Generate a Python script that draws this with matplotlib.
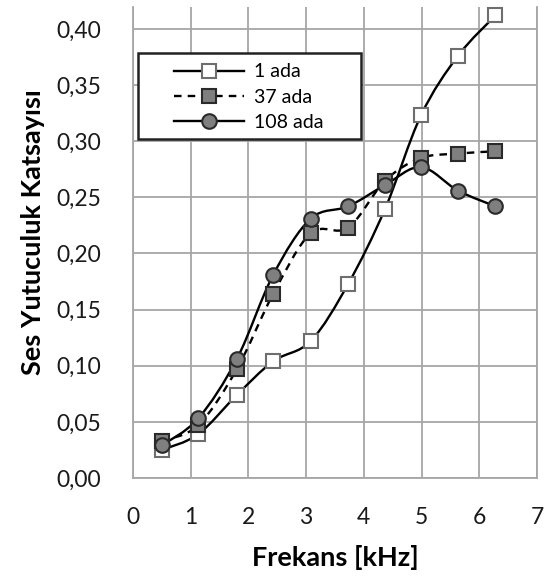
import matplotlib
matplotlib.use("Agg")
import matplotlib.pyplot as plt
from matplotlib.path import Path
from matplotlib.patches import PathPatch, Rectangle
from matplotlib.lines import Line2D
import numpy as np

# Frequency (kHz) and sound absorption coefficients
freq = [0.50, 1.13, 1.80, 2.43, 3.08, 3.73, 4.37, 4.99, 5.63, 6.28]
ada_1 = [0.025, 0.039, 0.074, 0.104, 0.122, 0.173, 0.240, 0.323, 0.376, 0.412]
ada_37 = [0.033, 0.047, 0.097, 0.164, 0.218, 0.223, 0.265, 0.285, 0.289, 0.291]
ada_108 = [0.029, 0.053, 0.106, 0.181, 0.231, 0.242, 0.261, 0.277, 0.256, 0.242]

series_labels = ["1 ada", "37 ada", "108 ada"]
x_ticks = [0, 1, 2, 3, 4, 5, 6, 7]
y_ticks = [0.00, 0.05, 0.10, 0.15, 0.20, 0.25, 0.30, 0.35, 0.40]

FONT = "Lato"
plt.rcParams["font.family"] = [FONT, "DejaVu Sans"]

fig = plt.figure(figsize=(5.54, 5.81), dpi=100)
ax = fig.add_axes([0.240, 0.1773, 0.7293, 0.8115])


def smooth_path(xs, ys, tension=1 / 6):
    """Cubic Bezier path through the points (Catmull-Rom style smoothing)."""
    pts = np.column_stack([xs, ys]).astype(float)
    n = len(pts)
    verts = [tuple(pts[0])]
    codes = [Path.MOVETO]
    for i in range(n - 1):
        p0 = pts[max(i - 1, 0)]
        p1 = pts[i]
        p2 = pts[i + 1]
        p3 = pts[min(i + 2, n - 1)]
        c1 = p1 + (p2 - p0) * tension
        c2 = p2 - (p3 - p1) * tension
        verts += [tuple(c1), tuple(c2), tuple(p2)]
        codes += [Path.CURVE4] * 3
    return Path(verts, codes)


styles = [
    dict(ls="-", marker="s", mfc="white", mec="#6e6e6e"),
    dict(ls=(0, (3.2, 2.6)), marker="s", mfc="#7f7f7f", mec="#2a2a2a"),
    dict(ls="-", marker="o", mfc="#7f7f7f", mec="#2a2a2a"),
]
series = [ada_1, ada_37, ada_108]

handles = []
for vals, st, lab in zip(series, styles, series_labels):
    patch = PathPatch(smooth_path(freq, vals), facecolor="none", edgecolor="black",
                      lw=1.7, linestyle=st["ls"], zorder=3)
    ax.add_patch(patch)
    ax.plot(freq, vals, ls="none", marker=st["marker"], ms=10.5, mfc=st["mfc"],
            mec=st["mec"], mew=1.5, zorder=4, clip_on=False)
    handles.append(Line2D([], [], color="black", lw=1.7, ls=st["ls"], marker=st["marker"],
                          ms=10.5, mfc=st["mfc"], mec=st["mec"], mew=1.5))

ax.set_xlim(0, 7)
ax.set_ylim(0, 0.42)
ax.set_xticks(x_ticks)
ax.set_yticks(y_ticks)
ax.set_xticklabels([str(v) for v in x_ticks])
ax.set_yticklabels([f"{v:.2f}".replace(".", ",") for v in y_ticks])
ax.tick_params(axis="both", length=0, labelsize=16.5, labelcolor="#1a1a1a")
ax.tick_params(axis="x", pad=21)
ax.tick_params(axis="y", pad=23)

ax.grid(True, color="#a6a6a6", lw=1.3)
ax.set_axisbelow(True)
for side in ["left", "bottom", "right"]:
    ax.spines[side].set_color("#a6a6a6")
    ax.spines[side].set_linewidth(1.3)
ax.spines["top"].set_visible(False)

ax.set_xlabel("Frekans [kHz]", fontsize=19.5, fontweight="bold", labelpad=12)
ax.set_ylabel("Ses Yutuculuk Katsayısı", fontsize=19.5, fontweight="bold")
ax.yaxis.set_label_coords(-0.2185, 0.522)

# Legend box (framed separately so it keeps generous side margins)
box = Rectangle((0.0124, 0.719), 0.552, 0.182, transform=ax.transAxes,
                facecolor="white", edgecolor="#222222", lw=1.8, zorder=5)
ax.add_patch(box)
leg = ax.legend(handles, series_labels, loc="center left", bbox_to_anchor=(0.1015, 0.808),
                fontsize=14, frameon=False, handlelength=3.6,
                handletextpad=0.5, borderpad=0, labelspacing=0.42, borderaxespad=0)
leg.set_zorder(6)

fig.savefig("out.png", dpi=100)
